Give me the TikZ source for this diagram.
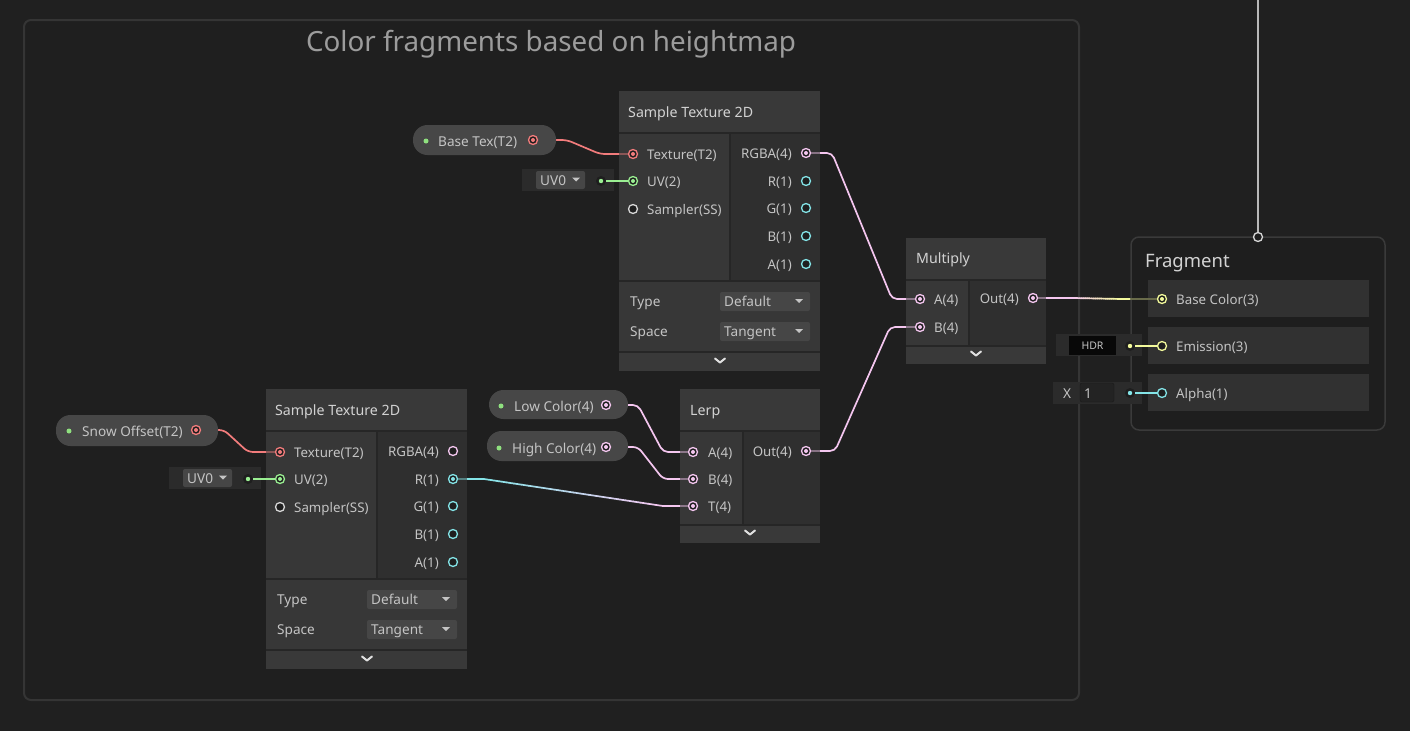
\documentclass[tikz,border=0pt]{standalone}
\usepackage{fontspec}
\setmainfont{Noto Sans}
\usetikzlibrary{calc}
\definecolor{bg}{HTML}{202020}
\definecolor{grpfill}{HTML}{1F1F1F}
\definecolor{grpline}{HTML}{353535}
\definecolor{grptxt}{HTML}{9C9C9C}
\definecolor{hdr}{HTML}{393939}
\definecolor{incol}{HTML}{373737}
\definecolor{outcol}{HTML}{2F2F2F}
\definecolor{divc}{HTML}{262626}
\definecolor{txt}{HTML}{C4C4C4}
\definecolor{ttl}{HTML}{D2D2D2}
\definecolor{pillc}{HTML}{474747}
\definecolor{ddc}{HTML}{464646}
\definecolor{boxc}{HTML}{2B2B2B}
\definecolor{fieldc}{HTML}{232323}
\definecolor{fieldline}{HTML}{1A1A1A}
\definecolor{portbg}{HTML}{1E1E1E}
\definecolor{cRed}{HTML}{F27C7C}
\definecolor{cPink}{HTML}{F4C6EF}
\definecolor{cCyan}{HTML}{84E4E7}
\definecolor{cGreen}{HTML}{9AEF92}
\definecolor{cYel}{HTML}{F3FA9C}
\definecolor{cGray}{HTML}{D8D8D8}
\definecolor{cLine}{HTML}{B8B8B8}
\definecolor{fragline}{HTML}{3A3A3A}
\definecolor{fragfill}{HTML}{1E1E1E}
\definecolor{rowc}{HTML}{313131}
\definecolor{gdotc}{HTML}{8FE07F}
\pgfdeclarelayer{bglayer}
\pgfdeclarelayer{wires}
\pgfdeclarelayer{toplayer}
\pgfsetlayers{bglayer,wires,main,toplayer}
\tikzset{
 lbl/.style={text=txt, inner sep=0, font=\fontsize{13.3}{15}\selectfont},
 lw/.style={lbl, anchor=base west, yshift=-5pt},
 le/.style={lbl, anchor=base east, yshift=-5pt},
 ntitle/.style={text=ttl, inner sep=0, anchor=base west, yshift=-5pt, font=\fontsize{14.2}{16}\selectfont},
 port/.style={circle, draw=#1, line width=1.3, fill=portbg, minimum size=9, inner sep=0},
 cport/.style={port=#1, path picture={\fill[#1] (path picture bounding box.center) circle (2pt);}},
 odot/.style={circle, fill=portbg, minimum size=10, inner sep=0, path picture={\fill[#1] (path picture bounding box.center) circle (2.2pt);}},
 gdot/.style={circle, fill=gdotc, minimum size=5, inner sep=0},
 wire/.style={line width=1.7, rounded corners=5},
 chev/.style={line width=2, draw=white!88!black, line cap=round, line join=round},
 pilltxt/.style={text=txt, inner sep=0, anchor=base west, yshift=-5pt, font=\fontsize{13.6}{15}\selectfont},
 pillbox/.style={fill=pillc, rounded corners=14.5, inner sep=0},
 ddbox/.style={fill=ddc, rounded corners=2, inner sep=0},
}
\newcommand\chevron[2]{\draw[chev] (#1-5,#2-2.5) -- (#1,#2+1.5) -- (#1+5,#2-2.5);}
\newcommand\ddarrow[2]{\fill[txt] (#1-4,#2-2) -- (#1+4,#2-2) -- (#1,#2+2) -- cycle;}
\newcommand\wire[5]{\draw[wire,#1] (#2.center) -- ($(#2.center)+(#3,0)$) -- ($(#4.center)+(#5,0)$) -- (#4.center);}
\newcommand\gwire[6]{%
 \coordinate (gs) at ($(#3.center)+(#4,0)$);
 \coordinate (ge) at ($(#5.center)+(#6,0)$);
 \draw[wire,#1] (#3.center) -- (gs);
 \draw[wire,#2] (ge) -- (#5.center);
 \foreach \i in {0,...,23}{%
  \pgfmathsetmacro\ta{\i/24}%
  \pgfmathsetmacro\tb{(\i+1)/24}%
  \pgfmathtruncatemacro\pc{100-(\i+0.5)*100/24}%
  \draw[line width=1.7, line cap=round, color={#1!\pc!#2}] ($(gs)!\ta!(ge)$) -- ($(gs)!\tb!(ge)$);
 }}
% sample texture node: prefix, x, y, rgba style, r style
\newcommand\sampnode[5]{%
\begin{scope}[shift={(#2,#3)}, name prefix=#1-]
 \fill[divc] (0,0) rectangle (201,280);
 \fill[hdr] (0,0) rectangle (201,41);
 \fill[incol] (0,43) rectangle (110,189);
 \fill[outcol] (112,43) rectangle (201,189);
 \fill[incol] (0,191) rectangle (201,260);
 \fill[hdr] (0,262) rectangle (201,280);
 \coordinate (L) at (0,100);
 \coordinate (R) at (201,100);
 \node[ntitle] (title) at (9,21) {Sample Texture 2D};
 \node[cport=cRed] (tex) at (14,63) {};
 \node[cport=cGreen] (uv) at (14,90) {};
 \node[port=cGray] (ss) at (14,118) {};
 \node[lw] (ltex) at (28,63) {Texture(T2)};
 \node[lw] (luv) at (28,90) {UV(2)};
 \node[lw] (lss) at (28,118) {Sampler(SS)};
 \node[#4=cPink] (rgba) at (187,62) {};
 \node[#5=cCyan] (r) at (187,90) {};
 \node[port=cCyan] (g) at (187,117) {};
 \node[port=cCyan] (b) at (187,145) {};
 \node[port=cCyan] (a) at (187,173) {};
 \node[le] (lrgba) at (173,62) {RGBA(4)};
 \node[le] (lr) at (173,90) {R(1)};
 \node[le] (lg) at (173,117) {G(1)};
 \node[le] (lb) at (173,145) {B(1)};
 \node[le] (la) at (173,173) {A(1)};
 \node[pilltxt] (ltype) at (11,210) {Type};
 \node[pilltxt] (lspace) at (11,240) {Space};
 \node[ddbox, minimum width=90, minimum height=19] (ddtype) at (146,210.5) {};
 \node[ddbox, minimum width=90, minimum height=19] (ddspace) at (146,240.5) {};
 \node[pilltxt] (vtype) at (105,210) {Default};
 \node[pilltxt] (vspace) at (105,240) {Tangent};
 \ddarrow{180}{210}
 \ddarrow{180}{240}
 \chevron{101}{270}
\end{scope}}
\begin{document}
\begin{tikzpicture}[x=1pt,y=-1pt]
\begin{pgfonlayer}{bglayer}
 \fill[bg] (0,0) rectangle (1410,731);
 \draw[grpline, line width=2, fill=grpfill, rounded corners=7] (24,20) rectangle (1079,700);
\end{pgfonlayer}
\useasboundingbox (0,0) rectangle (1410,731);
\node[text=grptxt, inner sep=0, anchor=base, font=\fontsize{27.8}{32}\selectfont] (gtitle) at (551,51) {Color fragments based on heightmap};

% ---------- Fragment ----------
\draw[fragline, line width=1.5, fill=fragfill, rounded corners=8] (1131,237) rectangle (1385,430);
\fill[rowc] (1148,280) rectangle (1369,317);
\fill[rowc] (1148,327) rectangle (1369,364);
\fill[rowc] (1148,374) rectangle (1369,411);
\coordinate (F-L) at (1131,300);
\node[text=ttl, anchor=base west, inner sep=0, font=\fontsize{18.5}{21}\selectfont] (F-title) at (1145,267) {Fragment};
\node[cport=cYel] (F-base) at (1162,299) {};
\node[port=cYel] (F-em) at (1162,346) {};
\node[port=cCyan] (F-alpha) at (1162,393) {};
\node[lw] (F-lbase) at (1176,299) {Base Color(3)};
\node[lw] (F-lem) at (1176,346) {Emission(3)};
\node[lw] (F-lalpha) at (1176,393) {Alpha(1)};
\node[port=cGray] (F-top) at (1258,237) {};
\coordinate (topend) at (1258,0);
\draw[cLine, line width=2] (topend) -- (F-top);

% HDR and X inputs
\node[fill=boxc, minimum width=86, minimum height=22, inner sep=0] (hdrbox) at (1099,345) {};
\node[fill=black!97, minimum width=47, minimum height=19, inner sep=0, text=txt, font=\fontsize{10.5}{12}\selectfont] (hdrfield) at (1092.5,345.5) {HDR};
\node[odot=cYel] (hdrdot) at (1130,346) {};
\node[fill=boxc, minimum width=89, minimum height=22, inner sep=0] (xbox) at (1097.5,393) {};
\node[fill=fieldc, draw=fieldline, rounded corners=2, minimum width=34, minimum height=19, inner sep=0] (xfield) at (1097,392.5) {};
\node[lw, font=\fontsize{13.6}{15}\selectfont] (xlbl) at (1063,393) {X};
\node[lw, font=\fontsize{13.6}{15}\selectfont] (xval) at (1084,393) {1};
\node[odot=cCyan] (xdot) at (1130,393) {};

% ---------- Sample Texture nodes ----------
\sampnode{A}{619}{91}{cport}{port}
\sampnode{B}{266}{389}{port}{cport}

% ---------- Multiply ----------
\begin{scope}[shift={(906,238)}, name prefix=M-]
 \fill[divc] (0,0) rectangle (140,126);
 \fill[hdr] (0,0) rectangle (140,41);
 \fill[incol] (0,43) rectangle (62,107);
 \fill[outcol] (64,43) rectangle (140,107);
 \fill[hdr] (0,109) rectangle (140,126);
 \coordinate (L) at (0,60);
 \coordinate (R) at (140,60);
 \node[ntitle] (title) at (10,20) {Multiply};
 \node[cport=cPink] (a) at (14,61) {};
 \node[cport=cPink] (b) at (14,89) {};
 \node[cport=cPink] (out) at (127,60) {};
 \node[lw] (la) at (28,61) {A(4)};
 \node[lw] (lb) at (28,89) {B(4)};
 \node[le] (lout) at (113,60) {Out(4)};
 \chevron{70}{116}
\end{scope}

% ---------- Lerp ----------
\begin{scope}[shift={(680,389)}, name prefix=L-]
 \fill[divc] (0,0) rectangle (140,154);
 \fill[hdr] (0,0) rectangle (140,41);
 \fill[incol] (0,43) rectangle (62,135);
 \fill[outcol] (64,43) rectangle (140,135);
 \fill[hdr] (0,137) rectangle (140,154);
 \coordinate (L) at (0,60);
 \coordinate (R) at (140,60);
 \node[ntitle] (title) at (10,21) {Lerp};
 \node[cport=cPink] (a) at (13,63) {};
 \node[cport=cPink] (b) at (13,90) {};
 \node[cport=cPink] (t) at (13,117) {};
 \node[cport=cPink] (out) at (126,62) {};
 \node[lw] (la) at (28,63) {A(4)};
 \node[lw] (lb) at (28,90) {B(4)};
 \node[lw] (lt) at (28,117) {T(4)};
 \node[le] (lout) at (112,62) {Out(4)};
 \chevron{70}{144}
\end{scope}

% ---------- Property pills ----------
\node[pillbox, minimum width=143, minimum height=30] (btpill) at (484.5,140) {};
\node[gdot] (btdot) at (426,141) {};
\node[pilltxt] (bttxt) at (438,141) {Base Tex(T2)};
\node[cport=cRed] (btp) at (533,140) {};

\node[pillbox, minimum width=162, minimum height=31] (snpill) at (137,430.5) {};
\node[gdot] (sndot) at (69,431) {};
\node[pilltxt] (sntxt) at (82,431) {Snow Offset(T2)};
\node[cport=cRed] (snp) at (196,430) {};

\node[pillbox, minimum width=139, minimum height=29] (lcpill) at (558.5,404.5) {};
\node[gdot] (lcdot) at (501,406) {};
\node[pilltxt] (lctxt) at (514,406) {Low Color(4)};
\node[cport=cPink] (lcp) at (606,405) {};

\node[pillbox, minimum width=141, minimum height=30] (hcpill) at (557.5,446) {};
\node[gdot] (hcdot) at (499,448) {};
\node[pilltxt] (hctxt) at (512,448) {High Color(4)};
\node[cport=cPink] (hcp) at (606,447) {};

% ---------- UV0 inputs ----------
\node[fill=boxc, minimum width=92, minimum height=22, inner sep=0] (uvAbox) at (568,180) {};
\node[ddbox, minimum width=49, minimum height=18] (uvAdd) at (560.5,180) {};
\node[pilltxt] (uvAtxt) at (540,180) {UV0};
\ddarrow{576}{179.5}
\node[odot=cGreen] (uvAdot) at (601,181) {};

\node[fill=boxc, minimum width=92, minimum height=22, inner sep=0] (uvBbox) at (215,478) {};
\node[ddbox, minimum width=49, minimum height=18] (uvBdd) at (207.5,478) {};
\node[pilltxt] (uvBtxt) at (187,478) {UV0};
\ddarrow{223}{477.5}
\node[odot=cGreen] (uvBdot) at (248,479) {};

% ---------- Wires ----------
\begin{pgfonlayer}{wires}
 \wire{cRed}{btp}{34}{A-tex}{-33}
 \wire{cPink}{A-rgba}{26}{M-a}{-28}
 \wire{cPink}{L-out}{29}{M-b}{-30}
 \wire{cRed}{snp}{28}{B-tex}{-32}
 \wire{cPink}{lcp}{32}{L-a}{-30}
 \wire{cPink}{hcp}{32}{L-b}{-30}
 \gwire{cCyan}{cPink}{B-r}{31}{L-t}{-30}
 \gwire{cPink}{cYel}{M-out}{40}{F-base}{-40}
\end{pgfonlayer}
\begin{pgfonlayer}{toplayer}
 \draw[wire, cGreen] (uvAdot) -- (A-uv);
 \draw[wire, cGreen] (uvBdot) -- (B-uv);
 \draw[wire, cYel] (hdrdot) -- (F-em);
 \draw[wire, cCyan] (xdot) -- (F-alpha);
 \draw[wire, cRed!45!incol] (A-tex.west -| A-L) -- (A-tex.west);
 \draw[wire, cPink!45!outcol] (A-rgba.east -| A-R) -- (A-rgba.east);
 \draw[wire, cRed!45!incol] (B-tex.west -| B-L) -- (B-tex.west);
 \draw[wire, cCyan!45!outcol] (B-r.east -| B-R) -- (B-r.east);
 \draw[wire, cPink!45!incol] (M-a.west -| M-L) -- (M-a.west);
 \draw[wire, cPink!45!incol] (M-b.west -| M-L) -- (M-b.west);
 \draw[wire, cPink!45!outcol] (M-out.east -| M-R) -- (M-out.east);
 \draw[wire, cPink!45!incol] (L-a.west -| L-L) -- (L-a.west);
 \draw[wire, cPink!45!incol] (L-b.west -| L-L) -- (L-b.west);
 \draw[wire, cPink!45!incol] (L-t.west -| L-L) -- (L-t.west);
 \draw[wire, cPink!45!outcol] (L-out.east -| L-R) -- (L-out.east);
 \draw[wire, cYel!35!fragfill] (F-base.west -| F-L) -- (F-base.west);
\end{pgfonlayer}
\end{tikzpicture}
\end{document}
